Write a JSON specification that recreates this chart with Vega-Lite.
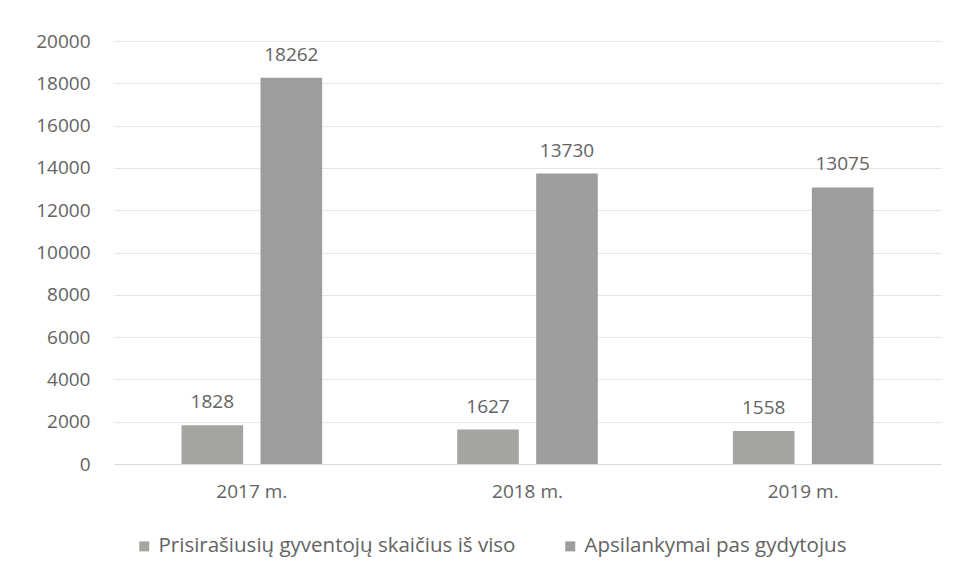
{
  "$schema": "https://vega.github.io/schema/vega-lite/v6.json",
  "width": 827,
  "height": 423,
  "autosize": "none",
  "padding": {"left": 114, "top": 41, "right": 19, "bottom": 117},
  "background": "#ffffff",
  "config": {
    "view": {"stroke": null},
    "font": "Open Sans",
    "axis": {"labelFont": "Open Sans", "labelFontSize": 19, "labelColor": "#636363"},
    "legend": {"labelFont": "Open Sans", "labelFontSize": 20.5, "labelColor": "#636363", "labelLimit": 0}
  },
  "data": {
    "values": [
      {"year": "2017 m.", "series": "Prisirašiusių gyventojų skaičius iš viso", "value": 1828},
      {"year": "2017 m.", "series": "Apsilankymai pas gydytojus", "value": 18262},
      {"year": "2018 m.", "series": "Prisirašiusių gyventojų skaičius iš viso", "value": 1627},
      {"year": "2018 m.", "series": "Apsilankymai pas gydytojus", "value": 13730},
      {"year": "2019 m.", "series": "Prisirašiusių gyventojų skaičius iš viso", "value": 1558},
      {"year": "2019 m.", "series": "Apsilankymai pas gydytojus", "value": 13075}
    ]
  },
  "encoding": {
    "x": {
      "field": "year", "type": "nominal", "title": null,
      "scale": {"paddingInner": 0.49, "paddingOuter": 0.245},
      "axis": {"labelAngle": 0, "ticks": false, "labelPadding": 18, "domainColor": "#d9d9d9", "domainWidth": 1}
    },
    "xOffset": {
      "field": "series", "type": "nominal",
      "sort": ["Prisirašiusių gyventojų skaičius iš viso", "Apsilankymai pas gydytojus"],
      "scale": {"paddingInner": 0.22, "paddingOuter": 0}
    },
    "y": {
      "field": "value", "type": "quantitative", "title": null,
      "scale": {"domain": [0, 20000]},
      "axis": {"values": [0, 2000, 4000, 6000, 8000, 10000, 12000, 14000, 16000, 18000, 20000], "format": "d", "ticks": false, "domain": false, "labelPadding": 24, "gridColor": "#e6e6e6"}
    }
  },
  "layer": [
    {
      "mark": {"type": "bar"},
      "encoding": {
        "color": {
          "field": "series", "type": "nominal",
          "sort": ["Prisirašiusių gyventojų skaičius iš viso", "Apsilankymai pas gydytojus"],
          "scale": {"range": ["#a4a5a1", "#9d9d9d"]},
          "legend": {
            "title": null, "orient": "none", "direction": "horizontal",
            "legendX": 20, "legendY": 495,
            "symbolType": "square", "symbolSize": 100, "symbolStrokeWidth": 0,
            "columnPadding": 44, "labelOffset": 4
          }
        }
      }
    },
    {
      "mark": {"type": "text", "baseline": "bottom", "dy": -13, "fontSize": 19, "color": "#636363", "font": "Open Sans"},
      "encoding": {"text": {"field": "value", "type": "quantitative", "format": "d"}}
    }
  ]
}
